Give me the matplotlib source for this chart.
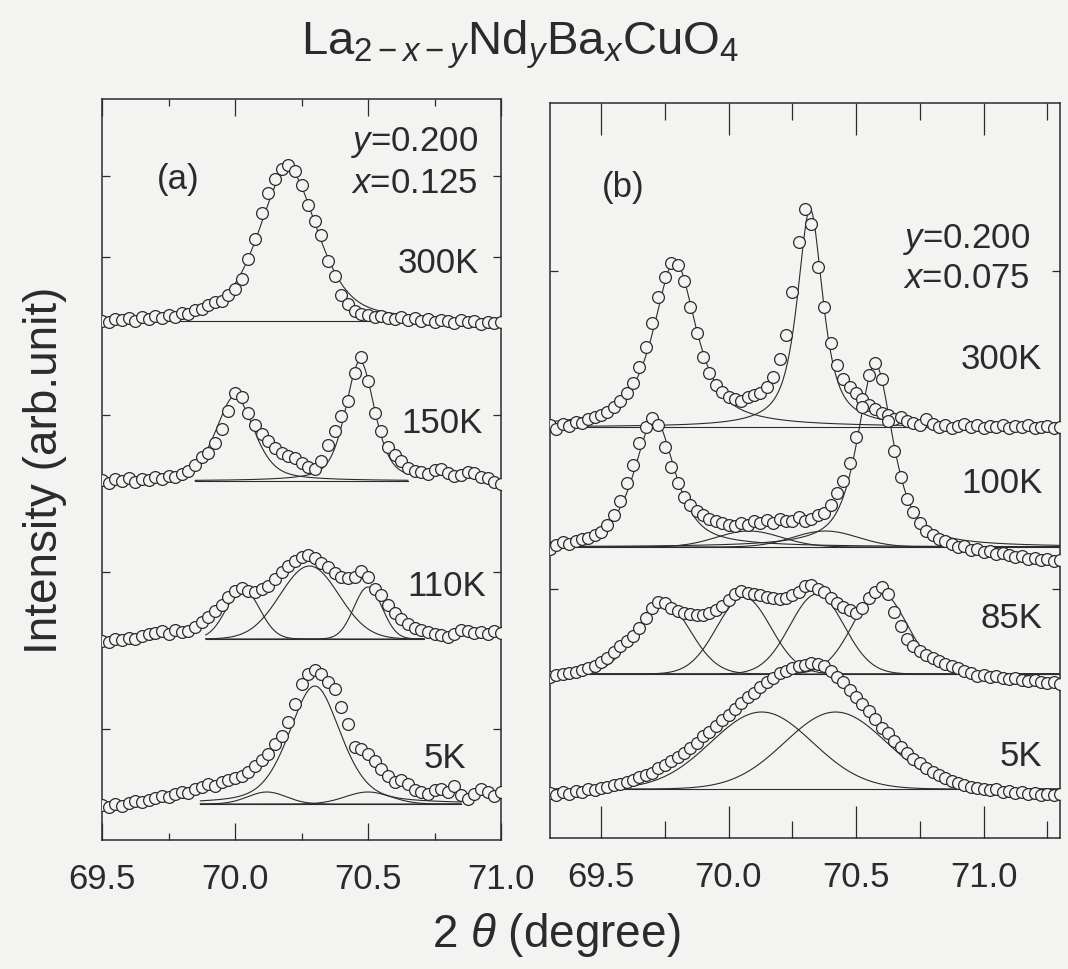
import numpy as np
import matplotlib.pyplot as plt

plt.rcParams['font.family'] = ['Liberation Sans', 'DejaVu Sans']
plt.rcParams['mathtext.fontset'] = 'custom'
plt.rcParams['mathtext.rm'] = 'Liberation Sans'
plt.rcParams['mathtext.it'] = 'Liberation Sans:italic'

INK = '#2b2b2b'
PAPER = '#f3f3f1'

# ---------------- panel (a): y=0.200, x=0.125 ----------------
two_theta_a = np.round(np.arange(69.5, 71.0001, 0.025), 3)   # 61 steps
base_a = {'300K': 519, '150K': 359, '110K': 201, '5K': 36}

a_300K = [0, -1, 2, 1, 3, 0, 4, 2, 5, 3,
          6, 4, 8, 7, 11, 12, 16, 19, 20, 26,
          32, 42, 62, 82, 108, 128, 142, 152, 156, 150,
          136, 116, 100, 86, 60, 45, 26, 17, 10, 7,
          6, 4, 5, 3, 2, 4, 1, 3, 0, 2,
          -1, 1, 0, -2, 1, -1, 0, -3, -1, -2,
          -1]
a_150K = [1, -2, 2, 0, 3, -1, 2, 1, 4, 2,
          5, 4, 7, 10, 16, 24, 28, 38, 52, 70,
          88, 84, 68, 56, 47, 40, 33, 28, 25, 23,
          18, 14, 12, 20, 36, 50, 65, 80, 108, 124,
          100, 68, 50, 34, 26, 20, 13, 10, 9, 7,
          11, 12, 8, 5, 6, 9, 8, 4, 3, -1,
          -3]
a_110K = [-2, -3, 0, -1, 1, 0, 3, 5, 6, 8,
          5, 9, 7, 8, 12, 17, 22, 28, 34, 42,
          48, 51, 48, 47, 50, 53, 60, 67, 73, 78,
          82, 84, 81, 76, 72, 66, 62, 61, 62, 68,
          62, 50, 44, 34, 26, 20, 15, 11, 9, 7,
          5, 4, 2, 5, 9, 8, 6, 7, 5, 8,
          6]
a_5K = [-1, -3, 0, -2, 1, 3, 2, 4, 6, 8,
        7, 10, 12, 11, 15, 17, 20, 18, 22, 24,
        26, 28, 32, 38, 44, 50, 60, 68, 82, 100,
        120, 130, 134, 130, 122, 115, 97, 80, 57, 55,
        50, 43, 35, 28, 22, 24, 20, 14, 12, 10,
        14, 15, 12, 18, 9, 5, 10, 15, 12, 8,
        12]

# fitted components: (centre, height, fwhm, lorentz fraction)
fit_a_300K = [(70.20, 152, 0.26, 0.5)]
fit_a_150K = [(70.00, 85, 0.17, 0.5), (70.47, 120, 0.13, 0.5)]
fit_a_110K = [(70.03, 50, 0.147, 0.0), (70.28, 73, 0.26, 0.0), (70.50, 52, 0.125, 0.0)]
fit_a_5K = [(70.12, 12, 0.17, 0.0), (70.30, 118, 0.23, 0.4), (70.50, 12, 0.20, 0.0)]
fit_range_a = {'300K': (69.5, 71.0), '150K': (69.85, 70.65),
               '110K': (69.89, 70.71), '5K': (69.87, 70.85)}

# ---------------- panel (b): y=0.200, x=0.075 ----------------
two_theta_b = np.round(np.arange(69.3, 71.3001, 0.025), 3)   # 81 steps
base_b = {'300K': 411, '100K': 291, '85K': 164, '5K': 49}

b_300K = [2, -2, 3, 1, 5, 4, 8, 10, 12, 15,
          20, 26, 34, 44, 60, 80, 104, 130, 150, 164,
          162, 146, 120, 94, 70, 54, 42, 35, 30, 28,
          26, 30, 32, 34, 40, 50, 68, 92, 135, 185,
          218, 203, 160, 120, 84, 62, 48, 40, 34, 28,
          22, 18, 14, 12, 8, 10, 6, 4, 2, 8,
          3, 0, 2, -1, 1, 3, 0, 2, -1, 1,
          0, 2, -1, 1, 0, 2, -1, 0, 1, -1,
          0]
b_100K = [-2, 2, 5, 3, 6, 8, 9, 12, 15, 22,
          32, 46, 64, 82, 104, 120, 129, 122, 100, 80,
          64, 50, 42, 36, 32, 28, 26, 24, 22, 21,
          24, 22, 26, 24, 27, 24, 28, 26, 26, 30,
          26, 28, 32, 34, 42, 54, 66, 84, 110, 140,
          172, 184, 168, 126, 96, 70, 48, 35, 24, 16,
          12, 8, 6, 3, 0, 1, -3, -2, -5, -4,
          -7, -6, -8, -10, -9, -12, -11, -13, -12, -14,
          -13]
b_85K = [-3, -1, 0, 1, 2, 4, 6, 8, 12, 16,
         22, 28, 33, 38, 46, 56, 66, 72, 71, 66,
         63, 61, 60, 59, 59, 61, 64, 68, 74, 80,
         83, 81, 80, 79, 77, 76, 75, 76, 79, 82,
         88, 89, 85, 82, 76, 71, 67, 64, 61, 66,
         76, 82, 87, 80, 62, 48, 35, 28, 23, 19,
         16, 13, 10, 8, 6, 3, 1, -2, -1, -3,
         -2, -4, -5, -4, -6, -7, -6, -8, -9, -8,
         -10]
b_5K = [-4, -6, -3, -5, -2, -3, 0, -1, 1, 2,
        4, 5, 7, 9, 12, 14, 16, 21, 24, 28,
        32, 36, 41, 46, 53, 57, 63, 69, 74, 80,
        86, 92, 96, 102, 107, 111, 116, 118, 121, 123,
        124, 126, 125, 123, 118, 112, 107, 99, 92, 85,
        78, 70, 61, 56, 48, 42, 36, 30, 26, 21,
        17, 14, 11, 8, 6, 4, 2, 1, 0, -1,
        0, -3, -2, -4, -3, -5, -4, -6, -5, -6,
        -5]

fit_b_300K = [(69.79, 166, 0.20, 0.8), (70.32, 218, 0.12, 0.8)]
fit_b_100K = [(69.71, 128, 0.19, 0.7), (70.08, 16, 0.30, 0.0),
              (70.38, 16, 0.30, 0.0), (70.575, 183, 0.165, 0.7)]
fit_b_85K = [(69.743, 72, 0.25, 0.0), (70.06, 77, 0.25, 0.0),
             (70.347, 80, 0.25, 0.0), (70.594, 82, 0.25, 0.0)]
fit_b_5K = [(70.13, 77, 0.47, 0.0), (70.42, 77, 0.47, 0.0)]


def pseudo_voigt(x, c, h, w, eta):
    u = (x - c) / w
    gauss = np.exp(-4 * np.log(2) * u ** 2)
    lor = 1 / (1 + 4 * u ** 2)
    return h * (eta * lor + (1 - eta) * gauss)


def draw_trace(ax, x, y, base, comps, xr):
    xs = np.linspace(xr[0], xr[1], 500)
    ax.plot(xr, [base, base], color=INK, lw=0.8, zorder=2)
    for c, h, w, eta in comps:
        ax.plot(xs, base + pseudo_voigt(xs, c, h, w, eta), color=INK, lw=0.8, zorder=2)
    ax.plot(x, base + np.asarray(y), ls='none', marker='o', ms=8.5, mew=0.9,
            mec=INK, mfc=PAPER, zorder=3)


fig = plt.figure(figsize=(10.68, 9.70), dpi=100, facecolor=PAPER)

ax_a = fig.add_axes([102 / 1068, 1 - 841 / 970, 399 / 1068, 741 / 970], facecolor=PAPER)
ax_b = fig.add_axes([550 / 1068, 1 - 839 / 970, 510 / 1068, 735 / 970], facecolor=PAPER)

draw_trace(ax_a, two_theta_a, a_300K, base_a['300K'], fit_a_300K, fit_range_a['300K'])
draw_trace(ax_a, two_theta_a, a_150K, base_a['150K'], fit_a_150K, fit_range_a['150K'])
draw_trace(ax_a, two_theta_a, a_110K, base_a['110K'], fit_a_110K, fit_range_a['110K'])
draw_trace(ax_a, two_theta_a, a_5K, base_a['5K'], fit_a_5K, fit_range_a['5K'])

full_b = (69.3, 71.3)
draw_trace(ax_b, two_theta_b, b_300K, base_b['300K'], fit_b_300K, full_b)
draw_trace(ax_b, two_theta_b, b_100K, base_b['100K'], fit_b_100K, full_b)
draw_trace(ax_b, two_theta_b, b_85K, base_b['85K'], fit_b_85K, full_b)
draw_trace(ax_b, two_theta_b, b_5K, base_b['5K'], fit_b_5K, full_b)

ax_a.set_xlim(69.5, 71.0)
ax_a.set_ylim(0, 741)
ax_b.set_xlim(69.3, 71.3)
ax_b.set_ylim(0, 735)

for ax, maj_len, min_len in [(ax_a, 12, 5), (ax_b, 23, 12)]:
    ax.set_xticks([69.5, 70.0, 70.5, 71.0])
    ax.set_xticklabels(['69.5', '70.0', '70.5', '71.0'])
    ax.tick_params(axis='x', which='major', direction='in', top=True, bottom=True,
                   length=maj_len, width=0.9, color=INK, labelsize=25,
                   labelcolor=INK, pad=16)
    ax.tick_params(axis='x', which='minor', direction='in', top=True, bottom=True,
                   length=min_len, width=0.9, color=INK)
    for s in ax.spines.values():
        s.set_color(INK)
        s.set_linewidth(1.1)

ax_a.set_xticks(np.arange(69.75, 71.0, 0.5), minor=True)
ax_b.set_xticks(np.arange(69.75, 71.3, 0.5), minor=True)

ax_a.set_yticks([111, 268, 425, 583, 664])
ax_a.tick_params(axis='y', direction='in', left=True, right=True, length=6,
                 width=0.9, color=INK, labelleft=False)
ax_b.set_yticks([249, 409, 567])
ax_b.tick_params(axis='y', direction='in', left=True, right=True, length=6,
                 width=0.9, color=INK, labelleft=False)

ta = ax_a.transAxes
ax_a.text(0.19, 0.893, '(a)', transform=ta, ha='center', va='center', fontsize=25, color=INK)
ax_a.text(0.9425, 0.942, r'$y$=0.200', transform=ta, ha='right', va='center', fontsize=25, color=INK)
ax_a.text(0.9425, 0.887, r'$x$=0.125', transform=ta, ha='right', va='center', fontsize=25, color=INK)
for lab, xx, yy in [('300K', 0.945, 0.779), ('150K', 0.955, 0.563),
                    ('110K', 0.962, 0.343), ('5K', 0.912, 0.111)]:
    ax_a.text(xx, yy, lab, transform=ta, ha='right', va='center', fontsize=25, color=INK)

tb = ax_b.transAxes
ax_b.text(0.143, 0.886, '(b)', transform=tb, ha='center', va='center', fontsize=25, color=INK)
ax_b.text(0.941, 0.815, r'$y$=0.200', transform=tb, ha='right', va='center', fontsize=25, color=INK)
ax_b.text(0.941, 0.763, r'$x$=0.075', transform=tb, ha='right', va='center', fontsize=25, color=INK)
for lab, yy in [('300K', 0.652), ('100K', 0.483), ('85K', 0.30), ('5K', 0.112)]:
    ax_b.text(0.965, yy, lab, transform=tb, ha='right', va='center', fontsize=25, color=INK)

fig.text(520 / 1068, 1 - 45 / 970,
         r'La$_{2-x-y}$Nd$_{y}$Ba$_{x}$CuO$_{4}$',
         ha='center', va='center', fontsize=34, color=INK)
fig.text(45 / 1068, 1 - 470 / 970, 'Intensity (arb.unit)', rotation=90,
         ha='center', va='center', fontsize=33, color=INK)
fig.text(556 / 1068, 1 - 935 / 970, r'2 $\theta$ (degree)',
         ha='center', va='center', fontsize=33, color=INK)

fig.savefig('out.png', dpi=100, facecolor=PAPER)
